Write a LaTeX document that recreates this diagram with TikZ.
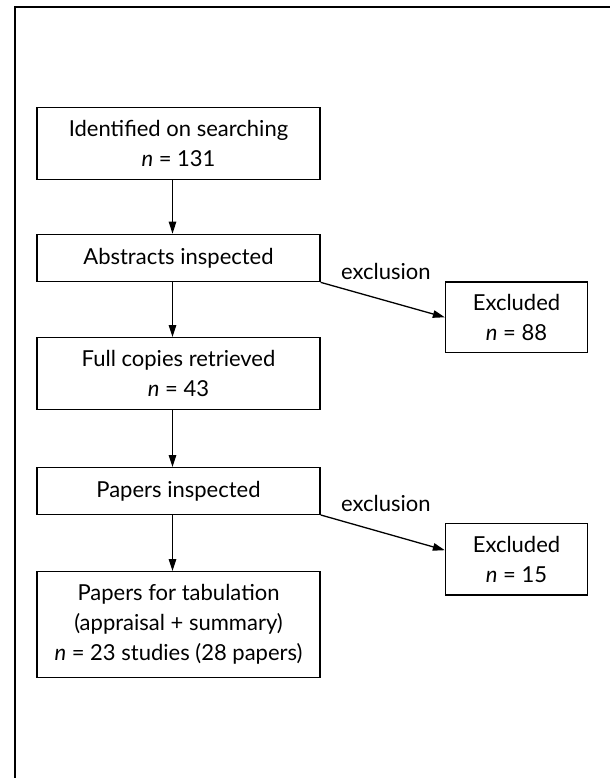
\documentclass[tikz,border=0pt]{standalone}
\usepackage{fontspec}
\setmainfont{Lato}
\usetikzlibrary{arrows.meta, positioning, calc}

\begin{document}
\begin{tikzpicture}[x=1pt, y=-1pt,
        font=\fontsize{22}{30}\selectfont,
        stepbox/.style={draw, line width=1.3pt, align=center, inner sep=0pt,
            minimum width=283pt, minimum height=71.6pt},
        exbox/.style={stepbox, minimum width=142pt},
        flow/.style={line width=1.3pt, -{Triangle[length=12pt, width=7.5pt]}}]
    \useasboundingbox (0,0) rectangle (610,778);
    \draw[line width=1.8pt] (14.8,778) -- (14.8,7.3) -- (610,7.3);
    \coordinate (spine) at (172.5,0);

    \node[stepbox] (ident) at (178.5,143.5) {Identified on searching\\\textit{n} = 131};
    \node[stepbox, minimum height=47.4pt] (abstr) at (178.5,258) {Abstracts inspected};
    \node[stepbox] (full) at (178.5,373.5) {Full copies retrieved\\\textit{n} = 43};
    \node[stepbox, minimum height=46.6pt] (papers) at (178.5,491) {Papers inspected};
    \node[stepbox, minimum height=106pt] (tab) at (178.5,624.7)
        {Papers for tabulation\\(appraisal + summary)\\\textit{n} = 23 studies (28 papers)};
    \node[exbox, minimum height=70.7pt] (ex1) at (516.5,317.3) {Excluded\\\textit{n} = 88};
    \node[exbox] (ex2) at (516.5,559.2) {Excluded\\\textit{n} = 15};

    \draw[flow] (ident.south -| spine) -- (abstr.north -| spine);
    \draw[flow] (abstr.south -| spine) -- (full.north -| spine);
    \draw[flow] (full.south -| spine) -- (papers.north -| spine);
    \draw[flow] (papers.south -| spine) -- (tab.north -| spine);

    \draw[flow] (abstr.south east) -- (ex1.west);
    \node[anchor=base west] (exlab1) at ([xshift=17pt, yshift=3pt]abstr.south east) {exclusion};
    \draw[flow] (papers.south east) -- ([yshift=9pt]ex2.west);
    \node[anchor=base west] (exlab2) at ([xshift=17pt, yshift=3pt]papers.south east) {exclusion};
\end{tikzpicture}
\end{document}
